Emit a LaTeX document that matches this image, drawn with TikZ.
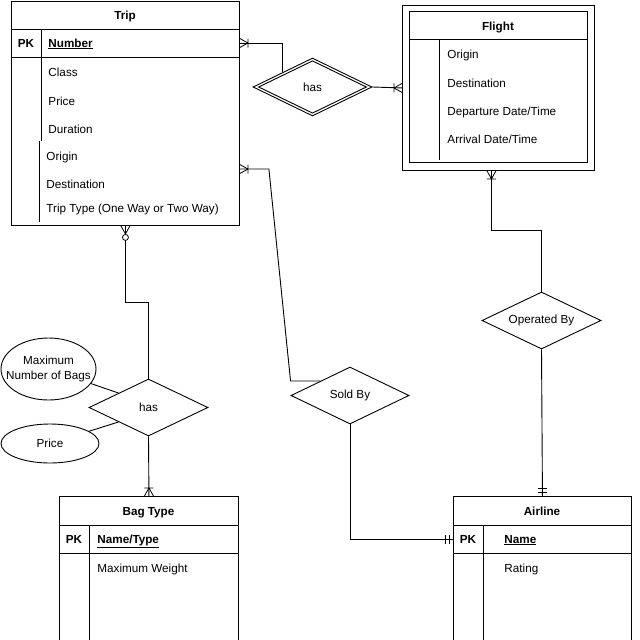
\documentclass[tikz,border=0pt]{standalone}
\usepackage{fontspec}
\setmainfont{Liberation Sans}
\usetikzlibrary{shapes.geometric,calc}

\newcommand{\ermanyfoot}[3]{% #1 point on entity border, (#2,#3) unit vector away from entity
  \draw[mk] ($(#1)+({8*#2},{8*#3})$) -- ($(#1)+({-4.5*#3},{4.5*#2})$)
            ($(#1)+({8*#2},{8*#3})$) -- ($(#1)+({4.5*#3},{-4.5*#2})$)
            ($(#1)+({8*#2-4.5*#3},{8*#3+4.5*#2})$) -- ($(#1)+({8*#2+4.5*#3},{8*#3-4.5*#2})$);}
\newcommand{\ermanyzero}[3]{%
  \draw[mk] ($(#1)+({8*#2},{8*#3})$) -- ($(#1)+({-4.5*#3},{4.5*#2})$)
            ($(#1)+({8*#2},{8*#3})$) -- ($(#1)+({4.5*#3},{-4.5*#2})$);
  \draw[mk, fill=white] ($(#1)+({11.5*#2},{11.5*#3})$) circle (3pt);}
\newcommand{\ermandone}[3]{%
  \draw[mk] ($(#1)+({4*#2-4.5*#3},{4*#3+4.5*#2})$) -- ($(#1)+({4*#2+4.5*#3},{4*#3-4.5*#2})$)
            ($(#1)+({8*#2-4.5*#3},{8*#3+4.5*#2})$) -- ($(#1)+({8*#2+4.5*#3},{8*#3-4.5*#2})$);}

\begin{document}
\begin{tikzpicture}[x=1pt,y=-1pt,line width=0.9pt,
  font=\fontsize{11.7}{15}\selectfont,
  ent/.style={draw, rectangle, inner sep=0pt, anchor=north west},
  rel/.style={draw, diamond, inner sep=0pt, fill=white},
  attr/.style={draw, ellipse, inner sep=0pt},
  lbl/.style={inner sep=0pt, align=center},
  txt/.style={inner sep=0pt, anchor=west, text height=9pt, text depth=1pt},
  hdr/.style={inner sep=0pt, text height=9pt, text depth=1pt, font=\fontsize{11.7}{15}\selectfont\bfseries},
  mk/.style={line width=0.8pt},
  conn/.style={line width=0.9pt}]
\fill[white] (0,0) rectangle (640,640);
\useasboundingbox (0,0) rectangle (640,640);

% ---------- Trip ----------
\node[ent, minimum width=228pt, minimum height=224.5pt] (trip) at (11,0.5) {};
\draw (11,29) -- (239,29);
\draw (11,57) -- (239,57);
\draw (41,29) -- (41,141);
\draw (39,141) -- (39,222);
\node[hdr] (triph) at (125,15) {Trip};
\node[hdr] (trippk) at (26,43) {PK};
\node[txt, font=\fontsize{11.7}{15}\selectfont\bfseries] (tnum) at (48,43) {\underline{Number}};
\node[txt] (tclass) at (48,72) {Class};
\node[txt] (tprice) at (48,101) {Price};
\node[txt] (tdur) at (48,129) {Duration};
\node[txt] (torig) at (46,156) {Origin};
\node[txt] (tdest) at (46,184) {Destination};
\node[txt] (ttype) at (46,208) {Trip Type (One Way or Two Way)};

% ---------- Flight (weak entity) ----------
\node[ent, minimum width=192pt, minimum height=165pt] (flight) at (402,5) {};
\node[ent, minimum width=178pt, minimum height=151pt] (flightin) at (409,11) {};
\draw (409,39) -- (587,39);
\draw (439,39) -- (439,160);
\node[hdr] (flighth) at (498,26) {Flight};
\node[txt] (forig) at (447,54) {Origin};
\node[txt] (fdest) at (447,83) {Destination};
\node[txt] (fdep) at (447,111) {Departure Date/Time};
\node[txt] (farr) at (447,139) {Arrival Date/Time};

% ---------- Bag Type ----------
\node[ent, minimum width=179pt, minimum height=150pt] (bag) at (59,496) {};
\draw (59,525) -- (238,525);
\draw (59,553) -- (238,553);
\draw (89,525) -- (89,646);
\node[hdr] (bagh) at (148.5,511) {Bag Type};
\node[hdr] (bagpk) at (74,539) {PK};
\node[txt, font=\fontsize{11.7}{15}\selectfont\bfseries] (bname) at (97,539) {\underline{Name/Type}};
\node[txt] (bweight) at (97,568) {Maximum Weight};

% ---------- Airline ----------
\node[ent, minimum width=178pt, minimum height=150pt] (air) at (453,496) {};
\draw (453,525) -- (631,525);
\draw (453,553) -- (631,553);
\draw (483,525) -- (483,646);
\node[hdr] (airh) at (542,511) {Airline};
\node[hdr] (airpk) at (468,539) {PK};
\node[txt, font=\fontsize{11.7}{15}\selectfont\bfseries] (aname) at (504,539) {\underline{Name}};
\node[txt] (arating) at (504,568) {Rating};

% ---------- Relationships ----------
\node[rel, minimum width=119pt, minimum height=58pt] (has1) at (312.5,87) {};
\node[draw, diamond, inner sep=0pt, minimum width=108pt, minimum height=52.5pt] (has1in) at (312.5,87) {};
\node[lbl] (has1t) at (312.5,87) {has};
\node[rel, minimum width=119pt, minimum height=57pt] (opby) at (541.5,320.5) {};
\node[lbl] (opbyt) at (541.5,320.5) {Operated By};
\node[rel, minimum width=118pt, minimum height=57pt] (soldby) at (350,395.5) {};
\node[lbl] (soldbyt) at (350,395.5) {Sold By};
\node[rel, minimum width=119pt, minimum height=57pt] (bhas) at (148.5,407.5) {};
\node[lbl] (bhast) at (148.5,407.5) {has};

% ---------- Attributes ----------
\node[attr, minimum width=95pt, minimum height=62pt] (maxb) at (48.5,369) {};
\node[lbl] (maxbt) at (48.5,369) {Maximum\\Number of Bags};
\node[attr, minimum width=98pt, minimum height=39pt] (bprice) at (50,443.5) {};
\node[lbl] (bpricet) at (50,443.5) {Price};

% ---------- Connectors ----------
\coordinate (tA) at (trip.east |- tnum);
\draw[conn] (tA) -| (has1.north west);
\ermanyfoot{tA}{1}{0}

\draw[conn] (has1.east) -- (flight.west);
\ermanyfoot{flight.west}{-1}{0}

\coordinate (fB) at ($(flight.south)+(-7,0)$);
\draw[conn] (fB) -- (fB |- 0,230) -| (opby.north);
\ermanyfoot{fB}{0}{1}

\draw[conn] (opby.south) -- (air.north);
\ermandone{air.north}{0}{-1}

\coordinate (tS) at ($(trip.north east)+(0,168.5)$);
\draw[conn] (tS) -- ++(29,0) -- (soldby.west |- soldby.north west) -- (soldby.north west);
\ermanyfoot{tS}{1}{0}

\coordinate (aW) at (air.west |- aname);
\draw[conn] (soldby.south) |- (aW);
\ermandone{aW}{-1}{0}

\draw[conn] (trip.south) -- (trip.south |- 0,302) -| (bhas.north);
\ermanyzero{trip.south}{0}{1}

\draw[conn] (bhas.south) -- (bag.north);
\ermanyfoot{bag.north}{0}{-1}

\draw[conn] (bhas.north west) -- (maxb);
\draw[conn] (bhas.south west) -- (bprice);
\end{tikzpicture}
\end{document}
